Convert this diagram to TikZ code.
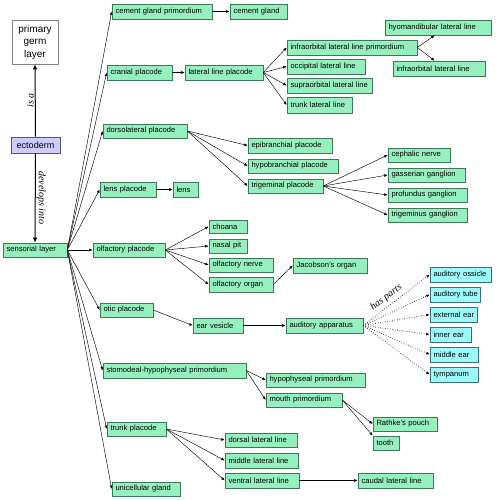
\documentclass[tikz,border=0pt]{standalone}
\usepackage{fontspec}
\setmainfont{Liberation Sans}
\newfontfamily\lblserif{Liberation Serif}
\usetikzlibrary{arrows.meta,calc}
\definecolor{gfill}{RGB}{150,240,190}
\definecolor{gdraw}{RGB}{60,120,90}
\definecolor{cfill}{RGB}{155,250,250}
\definecolor{cdraw}{RGB}{60,110,120}
\definecolor{lfill}{RGB}{204,204,255}
\newcommand\bx[7][box]{%
  \pgfmathsetmacro\bxw{#5-#3-7}\pgfmathsetmacro\bxh{#6-#4}%
  \node[#1,text width=\bxw pt,minimum height=\bxh pt] (#2) at ({(#3+#5)/2},{(#4+#6)/2}) {\mbox{#7}};}
\begin{document}
\begin{tikzpicture}[x=1pt,y=-1pt,
  box/.style={draw=gdraw,line width=0.6pt,fill=gfill,inner xsep=3.5pt,inner ysep=0pt,align=left,font=\fontsize{7.6}{8}\selectfont},
  cbox/.style={box,draw=cdraw,fill=cfill},
  e/.style={-{Latex[length=3.5pt,width=2.8pt]},line width=0.45pt},
  thk/.style={-{Latex[length=5pt,width=4.5pt]},line width=1pt},
  hp/.style={e,dotted,line width=0.9pt},
  lbl/.style={font=\lblserif\itshape\fontsize{10}{11}\selectfont,inner sep=1pt}]
\useasboundingbox (0,0) rectangle (500,500);
\fill[white] (0,0) rectangle (500,500);
% left column
\node[draw=gray,line width=0.6pt,fill=white,minimum width=46pt,minimum height=44pt,align=center,inner sep=0pt,font=\fontsize{10}{12.5}\selectfont] (pgl) at (35,42) {primary\\germ\\layer};
\node[draw=gray!70!black,line width=0.6pt,fill=lfill,minimum width=49pt,minimum height=16pt,inner sep=0pt,font=\fontsize{9}{10}\selectfont] (ect) at (35.5,145) {ectoderm};
\bx{sens}{3}{243}{67}{257}{sensorial layer}
\draw[thk] (ect.north) -- node[lbl,left,rotate=90,anchor=south] {is a} (pgl.south);
\draw[thk] (ect.south) -- node[lbl,right,rotate=-90,anchor=south] {develops into} (sens.north);
% second column
\bx{cgp}{112}{4}{212}{19}{cement gland primordium}
\bx{cg}{230}{4}{287}{19}{cement gland}
\bx{cran}{107}{65}{172}{80}{cranial placode}
\bx{llp}{185}{65}{263}{80}{lateral line placode}
\bx{hyo}{385}{20}{491}{35}{hyomandibular lateral line}
\bx{iolp}{287}{40}{417}{55}{infraorbital lateral line primordium}
\bx{iol}{393}{61}{485}{76}{infraorbital lateral line}
\bx{occ}{287}{59}{365}{74}{occipital lateral line}
\bx{sup}{287}{78}{372}{93}{supraorbital lateral line}
\bx{tll}{287}{97}{352}{113}{trunk lateral line}
\bx{dlp}{103}{124}{187}{138}{dorsolateral placode}
\bx{epi}{248}{138}{332}{153}{epibranchial placode}
\bx{hypo}{248}{159}{338}{173}{hypobranchial placode}
\bx{trig}{248}{179}{323}{193}{trigeminal placode}
\bx{ceph}{388}{148}{450}{162}{cephalic nerve}
\bx{gass}{388}{168}{465}{182}{gasserian ganglion}
\bx{prof}{388}{188}{467}{202}{profundus ganglion}
\bx{trgg}{388}{208}{467}{222}{trigeminus ganglion}
\bx{lensp}{100}{182}{156}{197}{lens placode}
\bx{lens}{173}{182}{198}{197}{lens}
\bx{olf}{93}{243}{165}{257}{olfactory placode}
\bx{cho}{209}{220}{247}{233}{choana}
\bx{nas}{209}{239}{247}{253}{nasal pit}
\bx{olfn}{209}{258}{273}{272}{olfactory nerve}
\bx{olfo}{209}{277}{273}{292}{olfactory organ}
\bx{jac}{293}{258}{367}{273}{Jacobson's organ}
\bx{otic}{100}{303}{153}{317}{otic placode}
\bx{earv}{193}{318}{243}{333}{ear vesicle}
\bx{aud}{286}{318}{363}{333}{auditory apparatus}
\bx[cbox]{oss}{430}{267}{491}{282}{auditory ossicle}
\bx[cbox]{tube}{430}{287}{480}{302}{auditory tube}
\bx[cbox]{ext}{430}{307}{477}{322}{external ear}
\bx[cbox]{inn}{430}{327}{471}{342}{inner ear}
\bx[cbox]{mid}{430}{347}{478}{362}{middle ear}
\bx[cbox]{tym}{430}{367}{478}{382}{tympanum}
\bx{stom}{103}{363}{246}{378}{stomodeal-hypophyseal primordium}
\bx{hyp}{266}{373}{365}{387}{hypophyseal primordium}
\bx{mouth}{266}{393}{342}{407}{mouth primordium}
\bx{rath}{373}{417}{437}{431}{Rathke's pouch}
\bx{tooth}{373}{436}{399}{450}{tooth}
\bx{trunk}{107}{422}{166}{436}{trunk placode}
\bx{dors}{225}{433}{297}{447}{dorsal lateral line}
\bx{midl}{225}{453}{298}{468}{middle lateral line}
\bx{vent}{225}{473}{299}{488}{ventral lateral line}
\bx{caud}{358}{473}{433}{488}{caudal lateral line}
\bx{uni}{112}{482}{180}{496}{unicellular gland}
% edges from sensorial layer
\foreach \t in {cgp,cran,dlp,lensp,olf,otic,stom,trunk,uni}
  \draw[e] (sens.east) -- (\t.west);
\draw[e] (cgp) -- (cg);
\draw[e] (cran) -- (llp);
\foreach \t in {iolp,occ,sup,tll} \draw[e] (llp.east) -- (\t.west);
\draw[e] (iolp.east) -- ($(hyo.south west)+(50,0)$);
\draw[e] (iolp.east) -- ($(iol.north west)+(42,0)$);
\foreach \t in {epi,hypo,trig} \draw[e] (dlp.east) -- (\t.west);
\foreach \t in {ceph,gass,prof,trgg} \draw[e] (trig.east) -- (\t.west);
\draw[e] (lensp) -- (lens);
\foreach \t in {cho,nas,olfn,olfo} \draw[e] (olf.east) -- (\t.west);
\draw[e] (olfo.east) -- (jac.west);
\draw[e] (otic.east) -- (earv.west);
\draw[e] (earv) -- (aud);
\draw[hp] (aud.east) -- node[lbl,above=2pt,sloped,pos=0.42] {has parts} (oss.west);
\foreach \t in {tube,ext,inn,mid,tym} \draw[hp] (aud.east) -- (\t.west);
\foreach \t in {hyp,mouth} \draw[e] (stom.east) -- (\t.west);
\draw[e] (mouth.east) -- (rath.west);
\draw[e] (mouth.east) -- (tooth.north west);
\foreach \t in {dors,midl,vent} \draw[e] (trunk.east) -- (\t.west);
\draw[e] (vent) -- (caud);
\end{tikzpicture}
\end{document}
